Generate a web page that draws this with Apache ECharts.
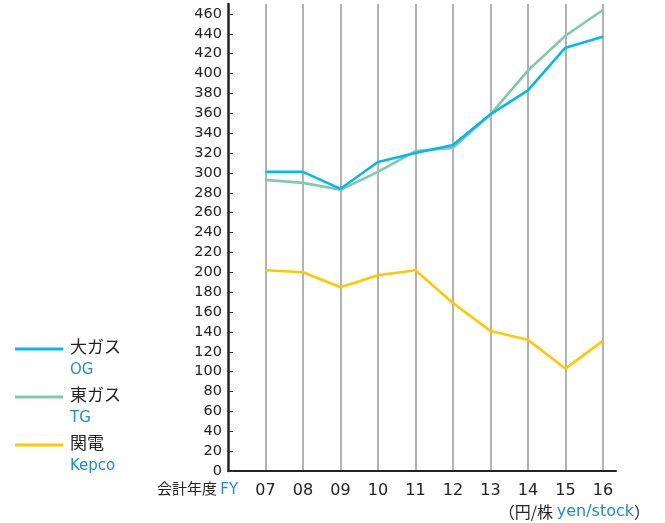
<!DOCTYPE html>
<html>
<head>
<meta charset="utf-8">
<script src="https://cdn.jsdelivr.net/npm/echarts@6/dist/echarts.min.js"></script>
<style>
html,body{margin:0;padding:0;background:#fff;}
#main{width:665px;height:523px;}
</style>
</head>
<body>
<div id="main"></div>
<script>
// ---- data ----
var years = [7, 8, 9, 10, 11, 12, 13, 14, 15, 16];
var yearLabels = ['07', '08', '09', '10', '11', '12', '13', '14', '15', '16'];
var seriesNames = ['大ガス', '東ガス', '関電'];
var seriesNamesEn = ['OG', 'TG', 'Kepco'];
var og = [301, 301, 284, 311, 320, 328, 359, 383, 426, 437];
var tg = [293, 290, 283, 301, 322, 325, 359, 403, 438, 464];
var kepco = [202, 200, 185, 197, 202, 169, 141, 132, 103, 131];
var yTicks = [0, 20, 40, 60, 80, 100, 120, 140, 160, 180, 200, 220, 240, 260, 280, 300, 320, 340, 360, 380, 400, 420, 440, 460];

var colors = ['#00b9ef', '#7fcba7', '#ffc800'];
var blue = '#1f8bd0';
var FONT = '"DejaVu Sans", "Noto Sans CJK JP", sans-serif';
var CJK = '"Noto Sans CJK JP", sans-serif';

function pairs(vals) {
  return years.map(function (y, i) { return [y, vals[i]]; });
}

var chart = echarts.init(document.getElementById('main'));
var seriesVals = [og, tg, kepco];
var series = seriesVals.map(function (v, i) {
  return {
    name: seriesNames[i],
    type: 'line',
    data: pairs(v),
    symbol: 'none',
    lineStyle: { color: colors[i], width: 2.6 },
    itemStyle: { color: colors[i] },
    z: 3 - i + 2,
    animation: false
  };
});

var legends = seriesNames.map(function (n, i) {
  return {
    data: [n],
    left: 15,
    top: 339 + i * 48,
    padding: 0,
    icon: 'rect',
    itemWidth: 48,
    itemHeight: 3,
    itemGap: 0,
    textStyle: { fontFamily: FONT, fontSize: 17, color: '#222', lineHeight: 20, padding: [0, 0, 0, 2] },
    selectedMode: false
  };
});

var graphics = seriesNamesEn.map(function (n, i) {
  return {
    type: 'text',
    left: 70,
    top: 363 + i * 48,
    style: { text: n, fill: blue, font: '15px ' + FONT }
  };
});
graphics.push({
  type: 'text',
  left: 157,
  top: 483,
  style: {
    text: '{a|会計年度} {b|FY}',
    rich: {
      a: { fill: '#222', fontFamily: FONT, fontSize: 15 },
      b: { fill: blue, fontFamily: FONT, fontSize: 15 }
    }
  }
});
graphics.push({
  type: 'text',
  right: 15,
  top: 504,
  style: {
    text: '{a|（円/株 }{b|yen/stock}{a|）}',
    rich: {
      a: { fill: '#222', fontFamily: CJK, fontSize: 16 },
      b: { fill: blue, fontFamily: FONT, fontSize: 16 }
    }
  }
});

chart.setOption({
  animation: false,
  backgroundColor: '#fff',
  grid: { left: 228, right: 49, top: 4, bottom: 52, outerBoundsMode: 'none' },
  legend: legends,
  xAxis: {
    type: 'value',
    min: 6,
    max: 16.35,
    interval: 1,
    axisLine: { show: true, lineStyle: { color: '#222', width: 2 } },
    axisTick: { show: false },
    axisLabel: {
      customValues: years,
      formatter: function (v) { return yearLabels[years.indexOf(v)] || ''; },
      fontFamily: FONT, fontSize: 16, color: '#222', margin: 12
    },
    splitLine: { show: true, showMinLine: false, showMaxLine: false, lineStyle: { color: '#999', width: 1.5 } }
  },
  yAxis: {
    type: 'value',
    min: 0,
    max: 470,
    interval: 20,
    axisLine: { show: true, lineStyle: { color: '#222', width: 2.5 } },
    axisTick: { show: true, inside: true, length: 5, customValues: yTicks, lineStyle: { color: '#333', width: 1 } },
    axisLabel: { customValues: yTicks, fontFamily: FONT, fontSize: 14.5, color: '#222', margin: 6 },
    splitLine: { show: false }
  },
  graphic: graphics,
  series: series
});
</script>
</body>
</html>
